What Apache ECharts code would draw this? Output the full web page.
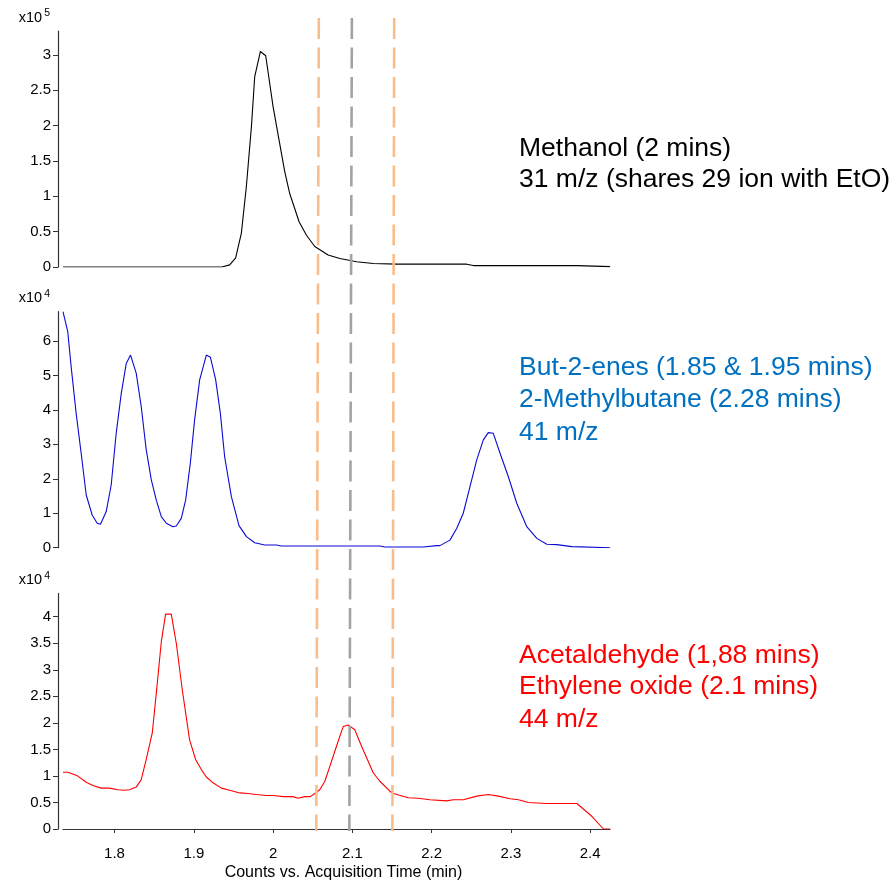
<!DOCTYPE html>
<html>
<head>
<meta charset="utf-8">
<script src="https://cdn.jsdelivr.net/npm/echarts@6/dist/echarts.min.js"></script>
<style>
  html, body { margin: 0; padding: 0; background: #fff; }
  #chart { width: 894px; height: 882px; }
</style>
</head>
<body>
<div id="chart"></div>
<script>
// Extracted ion chromatograms: retention time (min) vs. counts
const timeRange = [1.735, 2.425];
const timeTicks = [1.8, 1.9, 2.0, 2.1, 2.2, 2.3, 2.4];

// 31 m/z, counts x10^5
const methanol31 = [
  [1.735, 0], [1.9352, 0], [1.9453, 0.03], [1.9528, 0.13], [1.9600, 0.48],
  [1.9663, 1.14], [1.9727, 1.99], [1.9768, 2.69], [1.9840, 3.05], [1.9907, 2.99],
  [2.0000, 2.27], [2.0075, 1.80], [2.0147, 1.35], [2.0210, 1.04], [2.0328, 0.64],
  [2.0421, 0.45], [2.0526, 0.29], [2.0694, 0.17], [2.0842, 0.12], [2.1053, 0.075],
  [2.1263, 0.05], [2.1558, 0.04], [2.2442, 0.04], [2.2526, 0.02], [2.3832, 0.02],
  [2.4252, 0.005]
];
const methanolTicks = [0, 0.5, 1, 1.5, 2, 2.5, 3];

// 41 m/z, counts x10^4
const butenes41 = [
  [1.735, 6.85], [1.7410, 6.27], [1.7453, 5.25], [1.7516, 3.90], [1.7579, 2.74],
  [1.7643, 1.53], [1.7718, 0.95], [1.7781, 0.71], [1.7823, 0.68], [1.7895, 1.05],
  [1.7958, 1.82], [1.8021, 3.32], [1.8085, 4.48], [1.8148, 5.35], [1.8202, 5.59],
  [1.8274, 5.06], [1.8337, 4.09], [1.8400, 2.84], [1.8464, 1.97], [1.8527, 1.38],
  [1.8590, 0.90], [1.8653, 0.71], [1.8736, 0.61], [1.8779, 0.63], [1.8842, 0.85],
  [1.8897, 1.38], [1.8956, 2.45], [1.9010, 3.71], [1.9074, 4.87], [1.9158, 5.59],
  [1.9209, 5.53], [1.9276, 4.87], [1.9335, 3.90], [1.9389, 2.64], [1.9474, 1.48],
  [1.9570, 0.64], [1.9664, 0.32], [1.9768, 0.145], [1.9895, 0.08], [2.0042, 0.08],
  [2.0106, 0.05], [2.1347, 0.05], [2.1410, 0.02], [2.1894, 0.02], [2.2063, 0.06],
  [2.2105, 0.06], [2.2231, 0.22], [2.2316, 0.56], [2.2399, 1.00], [2.2484, 1.77],
  [2.2569, 2.55], [2.2652, 3.13], [2.2715, 3.34], [2.2778, 3.32], [2.2863, 2.74],
  [2.2968, 2.06], [2.3074, 1.29], [2.3200, 0.61], [2.3327, 0.27], [2.3453, 0.10],
  [2.3579, 0.09], [2.3769, 0.03], [2.4252, 0.0]
];
const butenesTicks = [0, 1, 2, 3, 4, 5, 6];

// 44 m/z, counts x10^4
const acetaldehyde44 = [
  [1.735, 1.07], [1.7410, 1.07], [1.7524, 1.01], [1.7643, 0.88], [1.7726, 0.82],
  [1.7832, 0.77], [1.7937, 0.77], [1.8042, 0.74], [1.8126, 0.73], [1.8189, 0.74],
  [1.8274, 0.79], [1.8337, 0.93], [1.8400, 1.31], [1.8476, 1.81], [1.8527, 2.56],
  [1.8590, 3.53], [1.8644, 4.05], [1.8716, 4.05], [1.8779, 3.50], [1.8855, 2.62],
  [1.8947, 1.68], [1.9023, 1.31], [1.9095, 1.12], [1.9158, 0.98], [1.9242, 0.87],
  [1.9348, 0.77], [1.9453, 0.73], [1.9579, 0.68], [1.9684, 0.67], [1.9790, 0.65],
  [1.9916, 0.63], [2.0000, 0.63], [2.0126, 0.61], [2.0252, 0.61], [2.0315, 0.58],
  [2.0400, 0.61], [2.0472, 0.61], [2.0526, 0.67], [2.0589, 0.74], [2.0653, 0.90],
  [2.0716, 1.18], [2.0800, 1.56], [2.0884, 1.93], [2.0947, 1.96], [2.1031, 1.87],
  [2.1116, 1.56], [2.1263, 1.06], [2.1347, 0.90], [2.1495, 0.68], [2.1705, 0.59],
  [2.1831, 0.58], [2.1979, 0.55], [2.2190, 0.53], [2.2273, 0.55], [2.2399, 0.55],
  [2.2569, 0.62], [2.2715, 0.65], [2.2841, 0.62], [2.2989, 0.57], [2.3094, 0.55],
  [2.3221, 0.50], [2.3453, 0.48], [2.3832, 0.48], [2.4021, 0.24], [2.4168, 0.0],
  [2.4252, 0.0]
];
const acetaldehydeTicks = [0, 0.5, 1, 1.5, 2, 2.5, 3, 3.5, 4];

// Integration window markers (top and bottom retention time of each line)
const markerNames = ['start', 'apex', 'end'];
const markerTop = [2.0577, 2.0994, 2.1528];
const markerBottom = [2.0545, 2.0962, 2.1505];
const markerColors = ['#f9bd8c', '#a3a3a3', '#f9bd8c'];

const FONT = "'Liberation Sans', Arial, sans-serif";
const AXIS_COLOR = '#333';
const NOTE_FONT = '26.5px ' + FONT;

const grids = [
  { left: 63, right: 284, top: 31, height: 236 },
  { left: 63, right: 284, top: 311.7, height: 236 },
  { left: 63, right: 284, top: 593.4, height: 236 },
  { left: 63, right: 284, top: 18, height: 813 }
];

function timeAxis(gridIndex, visible) {
  return {
    type: 'value', gridIndex, min: timeRange[0], max: timeRange[1],
    show: visible,
    offset: 9,
    axisLine: { show: visible, lineStyle: { color: AXIS_COLOR, width: 1.2 } },
    axisTick: { show: visible, length: 4, customValues: timeTicks, lineStyle: { color: AXIS_COLOR } },
    axisLabel: { show: visible, customValues: timeTicks, margin: 8, color: '#000', fontSize: 15, fontFamily: FONT },
    splitLine: { show: false },
    name: visible ? 'Counts vs. Acquisition Time (min)' : '',
    nameLocation: 'middle', nameGap: 27,
    nameTextStyle: { color: '#000', fontSize: 16, fontFamily: FONT, padding: [0, 0, 0, 14] }
  };
}

function countAxis(gridIndex, max, ticks, exponent) {
  return {
    type: 'value', gridIndex, min: 0, max: max,
    offset: 5,
    axisLine: { show: true, lineStyle: { color: AXIS_COLOR, width: 1.2 } },
    axisTick: { show: true, length: 5, customValues: ticks, lineStyle: { color: AXIS_COLOR } },
    axisLabel: { customValues: ticks, margin: 7, color: '#000', fontSize: 15, fontFamily: FONT },
    splitLine: { show: false },
    name: '{base|x10}{exp|' + exponent + '}',
    nameLocation: 'end', nameGap: 4,
    nameTextStyle: {
      align: 'right', verticalAlign: 'bottom', padding: [0, 8, 0, 0],
      rich: {
        base: { fontSize: 14.5, lineHeight: 19, fontFamily: FONT, color: '#000' },
        exp: { fontSize: 10.5, lineHeight: 10, verticalAlign: 'top', padding: [0, 0, 0, 2], fontFamily: FONT, color: '#000' }
      }
    }
  };
}

const traceSeries = (name, data, color, idx) => ({
  name, type: 'line', data, xAxisIndex: idx, yAxisIndex: idx,
  showSymbol: false, symbol: 'none', clip: true,
  lineStyle: { color, width: 1.1 }, z: 2
});

const markerSeries = markerNames.map((n, i) => ({
  name: n, type: 'line', xAxisIndex: 3, yAxisIndex: 3,
  data: [[markerTop[i], 1], [markerBottom[i], 0]],
  showSymbol: false, symbol: 'none',
  lineStyle: { color: markerColors[i], width: 2.6, type: [21, 8.5] },
  z: 5
}));

function note(text, y, color) {
  return { type: 'text', x: 519, y, style: { text, fill: color, font: NOTE_FONT, verticalAlign: 'middle' } };
}

const chart = echarts.init(document.getElementById('chart'), null, { renderer: 'canvas' });
chart.setOption({
  animation: false,
  backgroundColor: '#fff',
  grid: grids,
  xAxis: [timeAxis(0, false), timeAxis(1, false), timeAxis(2, true),
          { type: 'value', gridIndex: 3, min: timeRange[0], max: timeRange[1], show: false }],
  yAxis: [countAxis(0, 3.34, methanolTicks, 5), countAxis(1, 6.85, butenesTicks, 4),
          countAxis(2, 4.44, acetaldehydeTicks, 4),
          { type: 'value', gridIndex: 3, min: 0, max: 1, show: false }],
  series: [
    traceSeries('Methanol 31 m/z', methanol31, '#000000', 0),
    traceSeries('41 m/z', butenes41, '#0a0ad2', 1),
    traceSeries('44 m/z', acetaldehyde44, '#ff0000', 2),
    ...markerSeries
  ],
  graphic: [
    { type: 'group', children: [
      note('Methanol (2 mins)', 148.5, '#000'),
      note('31 m/z (shares 29 ion with EtO)', 179.5, '#000'),
      note('But-2-enes (1.85 & 1.95 mins)', 368, '#0070c0'),
      note('2-Methylbutane (2.28 mins)', 399.5, '#0070c0'),
      note('41 m/z', 432.5, '#0070c0'),
      note('Acetaldehyde (1,88 mins)', 656, '#ff0000'),
      note('Ethylene oxide (2.1 mins)', 687, '#ff0000'),
      note('44 m/z', 719.5, '#ff0000')
    ] }
  ]
});
</script>
</body>
</html>
